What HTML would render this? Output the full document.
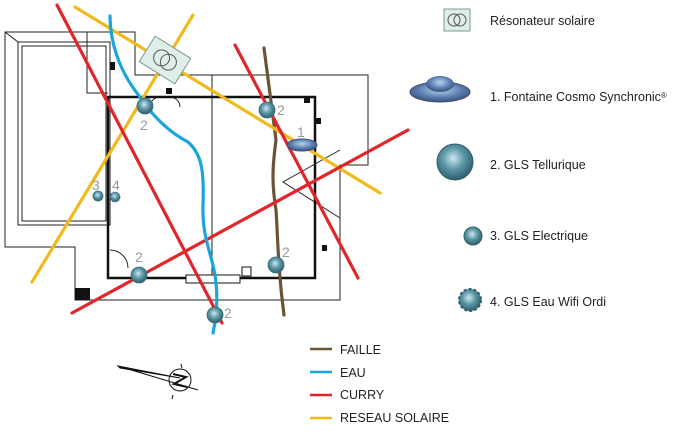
<!DOCTYPE html>
<html><head><meta charset="utf-8"><style>
body{margin:0;background:#fff;}
svg text{font-family:"Liberation Sans",sans-serif;}
</style></head><body>
<svg width="693" height="429" viewBox="0 0 693 429" xmlns="http://www.w3.org/2000/svg">
<defs>
<radialGradient id="g" cx="45%" cy="40%" r="60%"><stop offset="0" stop-color="#cfe6ee"/><stop offset="0.5" stop-color="#5c98a8"/><stop offset="1" stop-color="#2f5f6c"/></radialGradient>
<radialGradient id="u" cx="50%" cy="40%" r="60%"><stop offset="0" stop-color="#b9d3ee"/><stop offset="0.6" stop-color="#5b7fb0"/><stop offset="1" stop-color="#3a4f78"/></radialGradient>
</defs>
<g fill="none" stroke="#222" stroke-width="1">
<path d="M5,32 H135 V75 H368 V165 H340 V300 H75 V247 H5 Z"/>
<path d="M87,32 V93 H108"/>
<path d="M18,42 H110 V225 H18 Z"/>
<path d="M22,46 H106 V221 H22 Z"/>
<path d="M5,32 L18,42"/>
<line x1="212" y1="75" x2="212" y2="278"/>
<path d="M340,150 L283,182 L340,218"/>
<path d="M110,250 A18,18 0 0 1 128,268"/>
<path d="M170,97 A10,10 0 0 1 180,107 M160,97 A10,10 0 0 0 150,107"/>
</g>
<path d="M108,97 H315 V278 H108 Z" fill="none" stroke="#111" stroke-width="2.5"/>
<rect x="75" y="288" width="15" height="12" fill="#111"/>
<rect x="110" y="62" width="5" height="8" fill="#111"/>
<rect x="166" y="88" width="6" height="6" fill="#111"/>
<rect x="304" y="97" width="6" height="6" fill="#111"/>
<rect x="316" y="118" width="5" height="6" fill="#111"/>
<rect x="322" y="245" width="5" height="6" fill="#111"/>
<rect x="186" y="275" width="54" height="8" fill="#fff" stroke="#111"/>
<rect x="242" y="267" width="9" height="9" fill="#fff" stroke="#111"/>
<g fill="none" stroke-width="3.2" stroke-linecap="round">
<path d="M264,48 C268,80 272,110 276,140 C272,170 272,185 276,210 C278,240 278,270 284,315" stroke="#6b5436"/>
<line x1="75" y1="7" x2="380" y2="193" stroke="#f2b91c"/>
<line x1="193" y1="15" x2="32" y2="282" stroke="#f2b91c"/>
<line x1="57" y1="5" x2="222" y2="323" stroke="#e0262b"/>
<line x1="235" y1="45" x2="358" y2="278" stroke="#e0262b"/>
<line x1="72" y1="313" x2="408" y2="130" stroke="#e0262b"/>
<path d="M110,16 C110,40 118,70 140,97 C150,112 165,130 188,142 C203,155 204,175 203,205 C202,235 210,250 214,270 C218,290 218,310 213,333" stroke="#1aa6dc"/>
</g>
<g transform="translate(165,60) rotate(32)">
<rect x="-21" y="-15" width="42" height="30" fill="#dfeee6" stroke="#7a9a90"/>
<circle cx="-4" cy="0" r="8" fill="none" stroke="#555"/><circle cx="4" cy="0" r="8" fill="none" stroke="#555"/>
</g>
<g fill="url(#g)" stroke="#3b6b78" stroke-width="0.8">
<circle cx="145" cy="106" r="8"/><circle cx="267" cy="110" r="8"/><circle cx="139" cy="275" r="8"/><circle cx="276" cy="265" r="8"/><circle cx="215" cy="315" r="8"/>
<circle cx="98" cy="196" r="5"/><circle cx="115" cy="197" r="5" stroke-dasharray="2 1"/>
</g>
<ellipse cx="302" cy="145" rx="15" ry="6" fill="url(#u)" stroke="#3a4f78"/>
<g font-size="14" fill="#999">
<text x="140" y="130">2</text><text x="277" y="115">2</text><text x="135" y="262">2</text><text x="282" y="257">2</text><text x="224" y="318">2</text><text x="297" y="137">1</text><text x="92" y="190">3</text><text x="112" y="190">4</text>
</g>
<g transform="translate(457,20) rotate(0)">
<rect x="-13" y="-11" width="26" height="22" fill="#dfeee6" stroke="#7a9a90"/>
<circle cx="-3" cy="0" r="6" fill="none" stroke="#555"/><circle cx="3" cy="0" r="6" fill="none" stroke="#555"/>
</g>
<ellipse cx="440" cy="92" rx="30" ry="10" fill="url(#u)" stroke="#3a4f78"/>
<ellipse cx="440" cy="84" rx="14" ry="8" fill="url(#u)"/>
<circle cx="455" cy="162" r="18" fill="url(#g)" stroke="#2f5f6c"/>
<circle cx="473" cy="236" r="9" fill="url(#g)" stroke="#2f5f6c"/>
<circle cx="470" cy="300" r="11" fill="url(#g)" stroke="#2f5f6c" stroke-width="2" stroke-dasharray="3 2"/>
<g font-size="12.5" fill="#222">
<text x="490" y="25">Résonateur solaire</text>
<text x="490" y="101">1. Fontaine Cosmo Synchronic<tspan font-size="8" dy="-3">®</tspan></text>
<text x="490" y="169">2. GLS Tellurique</text>
<text x="490" y="240">3. GLS Electrique</text>
<text x="490" y="306">4. GLS Eau Wifi Ordi</text>
<text x="340" y="354">FAILLE</text>
<text x="340" y="377">EAU</text>
<text x="340" y="399">CURRY</text>
<text x="340" y="422">RESEAU SOLAIRE</text>
</g>
<g stroke-width="2.5">
<line x1="310" y1="349" x2="332" y2="349" stroke="#6b5436"/>
<line x1="310" y1="372" x2="332" y2="372" stroke="#1aa6dc"/>
<line x1="310" y1="395" x2="332" y2="395" stroke="#e0262b"/>
<line x1="310" y1="418" x2="332" y2="418" stroke="#f2b91c"/>
</g>
<g fill="none" stroke="#111" stroke-width="1">
<circle cx="180" cy="380" r="11"/>
<path d="M118,366 L198,390 M120,368 L180,378 L118,366 Z" fill="#111"/>
<path d="M173,374 L186,377 L174,384 L187,387" stroke-width="2"/>
<line x1="181" y1="364" x2="182" y2="368"/><line x1="172" y1="399" x2="173" y2="395"/>
</g>
</svg>
</body></html>
